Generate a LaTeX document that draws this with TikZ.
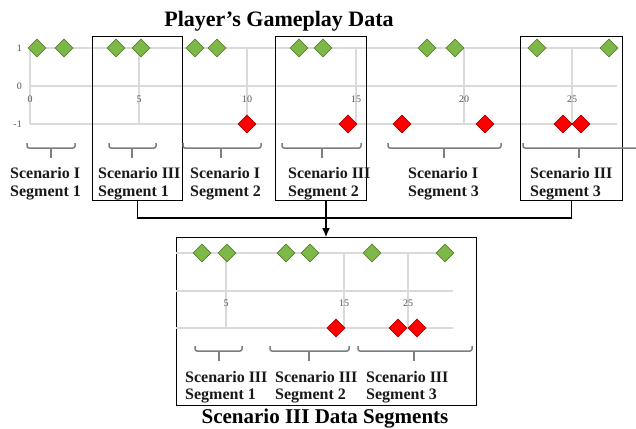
\documentclass[tikz,border=0pt]{standalone}
\usepackage{fontspec}
\setmainfont{Liberation Serif}
\usetikzlibrary{shapes.geometric,arrows.meta}

\definecolor{gfill}{RGB}{126,184,72}
\definecolor{gline}{RGB}{88,128,48}
\definecolor{rfill}{RGB}{255,0,0}
\definecolor{rline}{RGB}{170,0,0}
\definecolor{gridc}{RGB}{218,218,218}
\definecolor{bracec}{RGB}{125,125,125}
\definecolor{axisc}{RGB}{85,85,85}
\definecolor{labc}{RGB}{25,25,25}

\tikzset{
  gd/.style={shape=diamond, draw=gline, fill=gfill, line width=0.8pt,
    minimum width=18pt, minimum height=18pt, inner sep=0pt},
  rd/.style={gd, draw=rline, fill=rfill},
  gridline/.style={draw=gridc, line width=1.2pt},
  bracket/.style={draw=bracec, line width=1.5pt, rounded corners=2pt},
  seglabel/.style={anchor=base west, inner sep=0pt,
    font=\bfseries\fontsize{16}{18}\selectfont, text=labc},
  ticklabel/.style={inner sep=0pt, font=\fontsize{10}{12}\selectfont, text=axisc},
  frame/.style={draw=black, line width=1.2pt, anchor=north west, inner sep=0pt},
  heading/.style={anchor=base, inner sep=0pt, font=\bfseries\fontsize{22}{26}\selectfont},
}

% segment bracket: left end, right end, centre tick, top of the hooks
\newcommand\segbrace[4]{%
  \draw[bracket] (#1,#4) -- (#1,#4+5) -- (#2,#4+5) -- (#2,#4);
  \draw[bracket] (#3,#4+5) -- (#3,#4+15);
}

\begin{document}
\begin{tikzpicture}[x=1pt,y=-1pt]
\useasboundingbox (0,0) rectangle (636,428);

% ---------- full gameplay timeline ----------
\foreach \yy in {48,86,124} \draw[gridline] (30,\yy) -- (617,\yy);
\foreach \xx in {30,139,247,356,464,572} \draw[gridline] (\xx,48) -- (\xx,124);

\node[ticklabel, anchor=east] (ya) at (22,48) {1};
\node[ticklabel, anchor=east] (yb) at (22,86) {0};
\node[ticklabel, anchor=east] (yc) at (22,124) {-1};
\foreach \xx/\t [count=\i] in {30/0,139/5,247/10,356/15,464/20,572/25}
  \node[ticklabel] (xt\i) at (\xx,99) {\t};

\node[heading] (title) at (279,27) {Player’s Gameplay Data};

\node[frame, minimum width=90pt, minimum height=164pt] (boxA) at (92,36) {};
\node[frame, minimum width=91pt, minimum height=164pt] (boxB) at (275,36) {};
\node[frame, minimum width=102pt, minimum height=164pt] (boxC) at (520,36) {};

\foreach \xx [count=\i] in {37,64,116,141,195,217,299,323,427,455,537,609}
  \node[gd] (tg\i) at (\xx,48) {};
\foreach \xx [count=\i] in {247,348,402,485,563,581}
  \node[rd] (tr\i) at (\xx,124) {};

\segbrace{27}{75}{51}{143}
\segbrace{109}{156}{132}{143}
\segbrace{183}{261}{221}{143}
\segbrace{282}{361}{322}{143}
\segbrace{388}{501}{444}{143}
\draw[bracket] (523,143) -- (523,148) -- (640,148);
\draw[bracket] (579,148) -- (579,158);

\foreach \xx/\sc/\sg [count=\i] in {10/I/1,98/III/1,190/I/2,288/III/2,408/I/3,530/III/3}{
  \node[seglabel] (ts\i) at (\xx,178) {Scenario \sc};
  \node[seglabel] (tn\i) at (\xx,196) {Segment \sg};
}

% ---------- extracted Scenario III segments ----------
\node[frame, minimum width=300pt, minimum height=168pt] (boxD) at (176,237) {};

\foreach \yy in {253,291,328} \draw[gridline] (176,\yy) -- (453,\yy);
\foreach \xx in {226,344,408} \draw[gridline] (\xx,253) -- (\xx,328);
\foreach \xx/\t [count=\i] in {226/5,344/15,408/25}
  \node[ticklabel] (bt\i) at (\xx,303) {\t};

\foreach \xx [count=\i] in {202,227,286,310,372,445}
  \node[gd] (bg\i) at (\xx,253) {};
\foreach \xx [count=\i] in {336,398,417}
  \node[rd] (br\i) at (\xx,328) {};

\segbrace{195}{242}{219}{346}
\segbrace{270}{349}{309}{346}
\segbrace{358}{472}{414}{346}

\foreach \xx/\sg [count=\i] in {185/1,275/2,366/3}{
  \node[seglabel] (bs\i) at (\xx,382) {Scenario III};
  \node[seglabel] (bn\i) at (\xx,399) {Segment \sg};
}

\node[heading, font=\bfseries\fontsize{21}{25}\selectfont] (subtitle) at (325,423) {Scenario III Data Segments};

% ---------- connectors ----------
\coordinate (join) at (326,218);
\draw[line width=1.2pt] (boxA.south) -- (boxA.south |- join) -- (boxC.south |- join) -- (boxC.south);
\draw[line width=1.2pt, -{Latex[length=9pt,width=8pt]}] (boxB.south -| join) -- (boxD.north -| join);
\end{tikzpicture}
\end{document}
